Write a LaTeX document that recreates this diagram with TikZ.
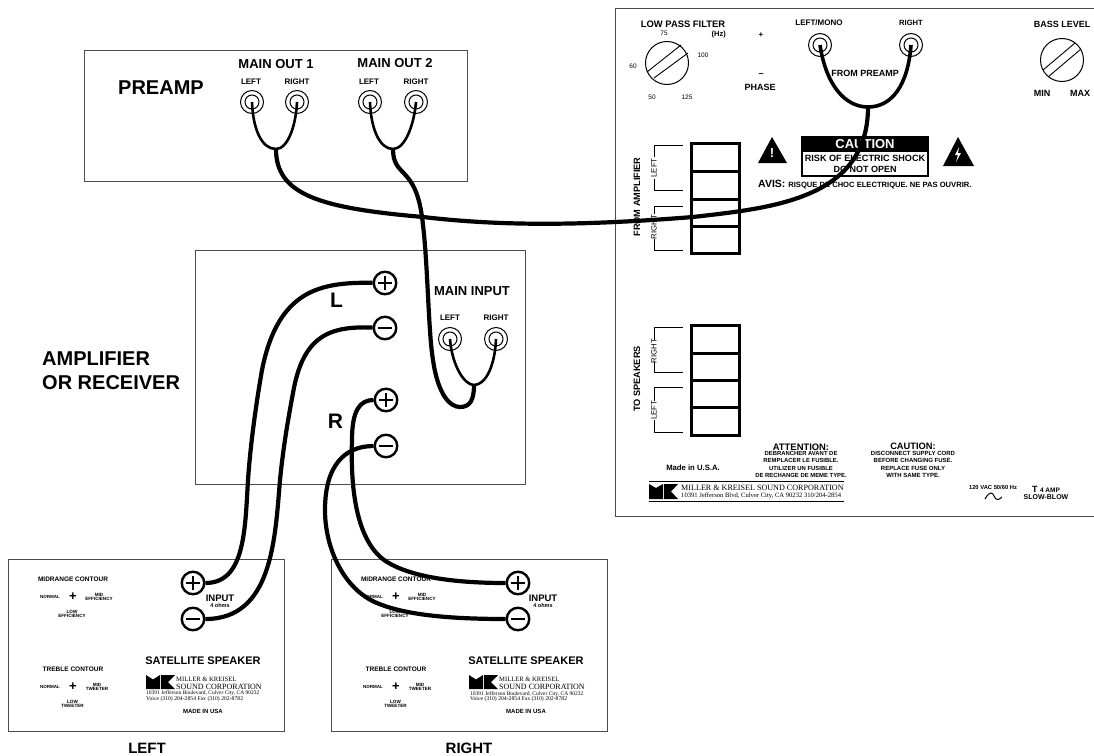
\documentclass[tikz,border=0pt]{standalone}
\usepackage{fontspec}
\setmainfont{Liberation Sans}
\newfontfamily\mkserif{Liberation Serif}
\usepackage{tikz}

\newcommand{\sz}[1]{\fontsize{#1}{#1}\selectfont}

\tikzset{
  box/.style={draw=black!70,line width=1pt},
  lab/.style={inner sep=0pt,font=\bfseries,align=center},
  lines/.style 2 args={inner sep=0pt,align=center,font=\bfseries\fontsize{#1}{#2}\selectfont},
  logotext/.style={inner sep=0pt,font=\mkserif,align=left,anchor=west},
  jack/.style={shape=circle,draw=black,line width=1pt,minimum size=23pt,inner sep=0pt,
    path picture={\draw[line width=1pt] (path picture bounding box.center) circle (7pt);}},
  term/.style={shape=circle,draw=black,fill=white,line width=2.4pt,minimum size=22.5pt,inner sep=0pt},
  termplus/.style={term,path picture={
    \draw[line width=2pt] ([xshift=-7pt]path picture bounding box.center) -- ([xshift=7pt]path picture bounding box.center);
    \draw[line width=2pt] ([yshift=-7pt]path picture bounding box.center) -- ([yshift=7pt]path picture bounding box.center);}},
  termminus/.style={term,path picture={
    \draw[line width=2pt] ([xshift=-7pt]path picture bounding box.center) -- ([xshift=7pt]path picture bounding box.center);}},
  knob/.style={shape=circle,draw=black,line width=1pt,minimum size=43pt,inner sep=0pt},
  cable/.style={draw=black,line width=4.2pt},
  fork/.style={draw=black,line width=2.6pt},
  cell/.style={draw=black,line width=3pt},
  bracket/.style={draw=black,line width=.9pt},
}

\begin{document}
\begin{tikzpicture}[x=1pt,y=-1pt]
    \useasboundingbox (0,0) rectangle (1094,755);

    % boxes
    \draw[box] (84,50) rectangle (467,181);
    \draw[box] (195,250) rectangle (525,484);
    \draw[box] (8,559) rectangle (284,731);
    \draw[box] (331,559) rectangle (607,731);
    \draw[box] (1094,8) -- (615,8) -- (615,516) -- (1094,516);

    % preamp
    \node[lab] (preamp) at (161,88) {\sz{20}PREAMP};
    \node[lab] (out1) at (276,64) {\sz{13}MAIN OUT 1};
    \node[lab] (out2) at (395,63) {\sz{13}MAIN OUT 2};
    \node[lab] (t1) at (251,82) {\sz{8}LEFT};
    \node[lab] (t2) at (297,82) {\sz{8}RIGHT};
    \node[lab] (t3) at (369,82) {\sz{8}LEFT};
    \node[lab] (t4) at (416,82) {\sz{8}RIGHT};
    \node[jack] (o1l) at (252,102) {};
    \node[jack] (o1r) at (297,102) {};
    \node[jack] (o2l) at (370,102) {};
    \node[jack] (o2r) at (416,102) {};

    % amplifier
    \node[lines={20}{24},align=left,anchor=west] (amp) at (42,371) {AMPLIFIER\\OR RECEIVER};
    \node[lab] (chl) at (336.5,300) {\sz{21}L};
    \node[lab] (chr) at (335.5,421) {\sz{21}R};
    \node[lab] (minput) at (472,291) {\sz{13}MAIN INPUT};
    \node[lab] (t5) at (450,318) {\sz{8}LEFT};
    \node[lab] (t6) at (496,318) {\sz{8}RIGHT};
    \node[jack] (inl) at (450,339) {};
    \node[jack] (inr) at (496,339) {};

    % left speaker
    \node[lab] (a1) at (73,579) {\sz{6.5}MIDRANGE CONTOUR};
    \node[lab] (a2) at (50,597) {\sz{4.5}NORMAL};
    \node[lab] (a3) at (73,597) {\sz{13}+};
    \node[lines={4.6}{4.5}] (a4) at (99,597) {MID\\EFFICIENCY};
    \node[lines={4.6}{4.5}] (a5) at (72,614) {LOW\\EFFICIENCY};
    \node[lab] (a6) at (73,669) {\sz{6.5}TREBLE CONTOUR};
    \node[lab] (a7) at (50,687) {\sz{4.5}NORMAL};
    \node[lab] (a8) at (73,687) {\sz{13}+};
    \node[lines={4.6}{4.5}] (a9) at (97,687) {MID\\TWEETER};
    \node[lines={4.6}{4.5}] (a10) at (72.5,704) {LOW\\TWEETER};
    \node[lab] (a11) at (220,598) {\sz{9.5}INPUT};
    \node[lab] (a12) at (220,606) {\sz{5.5}4 ohms};
    \node[lab] (a13) at (203,661) {\sz{11}SATELLITE SPEAKER};
    \node[logotext] (a14) at (176,679) {\sz{6.6}MILLER \& KREISEL};
    \node[logotext] (a15) at (176,687) {\sz{8}SOUND CORPORATION};
    \node[logotext] (a16) at (146,693) {\sz{5.5}10391 Jefferson Boulevard, Culver City, CA 90232};
    \node[logotext] (a17) at (146,699) {\sz{5.7}Voice (310) 204-2854  Fax (310) 202-8782};
    \node[lab] (a18) at (203,711) {\sz{6}MADE IN USA};
    \node[lab] (a19) at (147,748) {\sz{15}LEFT};
    \node[termplus] (splp) at (193,583) {};
    \node[termminus] (splm) at (193,619) {};
    \fill (146,675) -- (153,679.5) -- (160,675) -- (160,689) -- (146,689) -- cycle;
    \fill (161,675) -- (175,675) -- (168,682) -- (175,689) -- (161,689) -- cycle;

    % right speaker
    \node[lab] (b1) at (396,579) {\sz{6.5}MIDRANGE CONTOUR};
    \node[lab] (b2) at (373,597) {\sz{4.5}NORMAL};
    \node[lab] (b3) at (396,597) {\sz{13}+};
    \node[lines={4.6}{4.5}] (b4) at (422,597) {MID\\EFFICIENCY};
    \node[lines={4.6}{4.5}] (b5) at (395,614) {LOW\\EFFICIENCY};
    \node[lab] (b6) at (396,669) {\sz{6.5}TREBLE CONTOUR};
    \node[lab] (b7) at (373,687) {\sz{4.5}NORMAL};
    \node[lab] (b8) at (396,687) {\sz{13}+};
    \node[lines={4.6}{4.5}] (b9) at (420,687) {MID\\TWEETER};
    \node[lines={4.6}{4.5}] (b10) at (395.5,704) {LOW\\TWEETER};
    \node[lab] (b11) at (543,598) {\sz{9.5}INPUT};
    \node[lab] (b12) at (543,606) {\sz{5.5}4 ohms};
    \node[lab] (b13) at (526,661) {\sz{11}SATELLITE SPEAKER};
    \node[logotext] (b14) at (499,679) {\sz{6.6}MILLER \& KREISEL};
    \node[logotext] (b15) at (499,687) {\sz{8}SOUND CORPORATION};
    \node[logotext] (b16) at (470,694) {\sz{5.5}10391 Jefferson Boulevard, Culver City, CA 90232};
    \node[logotext] (b17) at (470,699) {\sz{5.7}Voice (310) 204-2854  Fax (310) 202-8782};
    \node[lab] (b18) at (526,711) {\sz{6}MADE IN USA};
    \node[lab] (b19) at (469,748) {\sz{15}RIGHT};
    \node[termplus] (sprp) at (518,583) {};
    \node[termminus] (sprm) at (518,619) {};
    \fill (469,675) -- (476,679.5) -- (483,675) -- (483,689) -- (469,689) -- cycle;
    \fill (484,675) -- (498,675) -- (491,682) -- (498,689) -- (484,689) -- cycle;

    % back panel
    \node[lab] (lpf) at (683,24) {\sz{9.4}LOW PASS FILTER};
    \node[lab,anchor=east] (hz) at (726,35) {\sz{7.5}(Hz)};
    \node[inner sep=0pt] (n75) at (664,33) {\sz{6.5}75};
    \node[inner sep=0pt] (n100) at (703,55) {\sz{6.5}100};
    \node[inner sep=0pt] (n60) at (633,66) {\sz{6.5}60};
    \node[inner sep=0pt] (n50) at (652,97) {\sz{6.5}50};
    \node[inner sep=0pt] (n125) at (687,97) {\sz{6.5}125};
    \node[knob] (lpk) at (667,63) {};
    \draw[bracket] (647,72) -- (681,45);
    \draw[bracket] (654,78) -- (688,53);
    \node[lab] (plus) at (761,35) {\sz{8}+};
    \node[lab] (minus) at (761,75) {\sz{9}--};
    \node[lab] (phase) at (760,87) {\sz{9}PHASE};
    \node[lab] (lm) at (819,23) {\sz{8}LEFT/MONO};
    \node[lab] (rt) at (911,23) {\sz{7.6}RIGHT};
    \node[jack] (pl) at (820,45) {};
    \node[jack] (pr) at (911,45) {};
    \node[lab] (frompre) at (865,73) {\sz{9}FROM PREAMP};
    \node[lab] (bass) at (1062,24) {\sz{9}BASS LEVEL};
    \node[knob] (bk) at (1062,60) {};
    \draw[bracket] (1043,70) -- (1075,43);
    \draw[bracket] (1048,77) -- (1081,49);
    \node[lab] (bmin) at (1042,93) {\sz{9}MIN};
    \node[lab] (bmax) at (1080,93) {\sz{9}MAX};

    \draw[cell] (691,143) rectangle (739,253);
    \draw[cell] (691,171) -- (739,171);
    \draw[cell] (691,199) -- (739,199);
    \draw[cell] (691,226) -- (739,226);
    \draw[cell] (691,325) rectangle (739,435);
    \draw[cell] (691,353) -- (739,353);
    \draw[cell] (691,380) -- (739,380);
    \draw[cell] (691,407) -- (739,407);

    \draw[bracket] (683,145) -- (654,145) -- (654,157);
    \draw[bracket] (654,179) -- (654,190) -- (683,190);
    \draw[bracket] (683,206) -- (654,206) -- (654,214);
    \draw[bracket] (654,239) -- (654,250) -- (683,250);
    \draw[bracket] (683,327) -- (654,327) -- (654,340);
    \draw[bracket] (654,362) -- (654,372) -- (683,372);
    \draw[bracket] (683,387) -- (654,387) -- (654,401);
    \draw[bracket] (654,420) -- (654,432) -- (683,432);
    \node[rotate=90,inner sep=0pt] (fl) at (654,168) {\sz{7.8}LEFT};
    \node[rotate=90,inner sep=0pt] (fr) at (654,227) {\sz{7.8}RIGHT};
    \node[rotate=90,inner sep=0pt] (sr) at (654,351) {\sz{7.8}RIGHT};
    \node[rotate=90,inner sep=0pt] (sl) at (654,410) {\sz{7.8}LEFT};
    \node[lab,rotate=90] (famp) at (637,197) {\sz{9.2}FROM AMPLIFIER};
    \node[lab,rotate=90] (tosp) at (637,379) {\sz{9.2}TO SPEAKERS};

    % warning
    \fill (772,137) -- (787,163) -- (758,163) -- cycle;
    \node[lab,text=white] (excl) at (772,153) {\sz{13}!};
    \fill (958,137) -- (974,166) -- (943,166) -- cycle;
    \fill[white] (959,147) -- (955,155) -- (958,155) -- (956,162) -- (961,153) -- (958,153) -- cycle;
    \draw[line width=1.2pt] (802,137) rectangle (928,176);
    \fill (802,137) rectangle (928,152);
    \node[lab,text=white] (caut) at (865,144.5) {\sz{13}CAUTION};
    \node[lab] (risk) at (865,158) {\sz{9.1}RISK OF ELECTRIC SHOCK};
    \node[lab] (dno) at (865,169) {\sz{9}DO NOT OPEN};
    \node[lab,anchor=west] (avis) at (758,185) {\sz{10.5}AVIS: \sz{7.6}RISQUE DE CHOC ELECTRIQUE.  NE PAS OUVRIR.};

    % bottom of panel
    \node[lab] (madein) at (693,468) {\sz{7.7}Made in U.S.A.};
    \node[lab] (att) at (801,447) {\sz{9.4}ATTENTION:};
    \node[lines={5.9}{7.2}] (att2) at (801,464.5) {DEBRANCHER AVANT DE\\REMPLACER LE FUSIBLE.\\UTILIZER UN FUSIBLE\\DE RECHANGE DE MEME TYPE.};
    \node[lab] (cau2) at (913,446) {\sz{9.3}CAUTION:};
    \node[lines={6}{7.2}] (cau3) at (913,464.5) {DISCONNECT SUPPLY CORD\\BEFORE CHANGING FUSE.\\REPLACE FUSE ONLY\\WITH SAME TYPE.};
    \draw[line width=1pt] (649,481) -- (844,481);
    \draw[line width=1pt] (649,501) -- (844,501);
    \fill (649,484) -- (656,488) -- (663,484) -- (663,499) -- (649,499) -- cycle;
    \fill (664,484) -- (678,484) -- (671,491.5) -- (678,499) -- (664,499) -- cycle;
    \node[logotext] (mk1) at (681,488) {\sz{8.1}MILLER \& KREISEL SOUND CORPORATION};
    \node[logotext] (mk2) at (681,496) {\sz{6.6}10391 Jefferson Blvd, Culver City, CA 90232  310/204-2854};
    \node[lab] (vac) at (993,487) {\sz{5.8}120 VAC  50/60 Hz};
    \draw[line width=1pt] (985,499) .. controls (990,490) and (993,493) .. (994,496) .. controls (996,501) and (999,500) .. (1002,497);
    \node[lab] (fuse1) at (1046,489) {\sz{9}T \sz{6.5}4 AMP};
    \node[lab] (fuse2) at (1046,497) {\sz{7}SLOW-BLOW};

    % cables
    \coordinate (y1) at (276,149);
    \coordinate (y2) at (393,149);
    \coordinate (y3) at (474,385);
    \coordinate (y4) at (868,107);
    \draw[fork] (o1l.center) .. controls (253,130) and (262,149) .. (y1) .. controls (288,149) and (296,125) .. (o1r.center);
    \draw[fork] (o2l.center) .. controls (371,130) and (380,149) .. (y2) .. controls (405,149) and (414,125) .. (o2r.center);
    \draw[fork] (inl.center) .. controls (452,365) and (464,385) .. (y3) .. controls (486,385) and (495,365) .. (inr.center);
    \draw[cable,line width=3.6pt] (pl.center) .. controls (826,85) and (845,107) .. (y4) .. controls (892,107) and (908,85) .. (pr.center);
    \draw[cable] (y1) .. controls (276,195) and (320,208) .. (423,217) .. controls (500,226) and (580,226) .. (693,217) .. controls (770,208) and (868,200) .. (y4);
    \draw[cable] (y2) .. controls (393,178) and (415,165) .. (422,217) .. controls (428,260) and (428,330) .. (433,360) .. controls (438,395) and (450,407) .. (460,407) .. controls (470,407) and (474,400) .. (y3);

    \node[termplus] (lp) at (385,283) {};
    \node[termminus] (lm1) at (385,328) {};
    \node[termplus] (rp) at (386,400) {};
    \node[termminus] (rm) at (386,446) {};
    \draw[cable] (lp) .. controls (320,282) and (278,290) .. (262,370) .. controls (255,410) and (250,450) .. (248,480) .. controls (245,530) and (245,583) .. (splp);
    \draw[cable] (lm1) .. controls (330,326) and (303,335) .. (293,393) .. controls (287,425) and (283,450) .. (280,480) .. controls (275,540) and (272,619) .. (splm);
    \draw[cable] (rp) .. controls (360,400) and (352,410) .. (352,440) .. controls (350,500) and (360,545) .. (387,562) .. controls (410,576) and (450,583) .. (sprp);
    \draw[cable] (rm) .. controls (345,446) and (325,465) .. (325,510) .. controls (325,550) and (345,590) .. (377,603) .. controls (405,615) and (450,619) .. (sprm);
\end{tikzpicture}
\end{document}
